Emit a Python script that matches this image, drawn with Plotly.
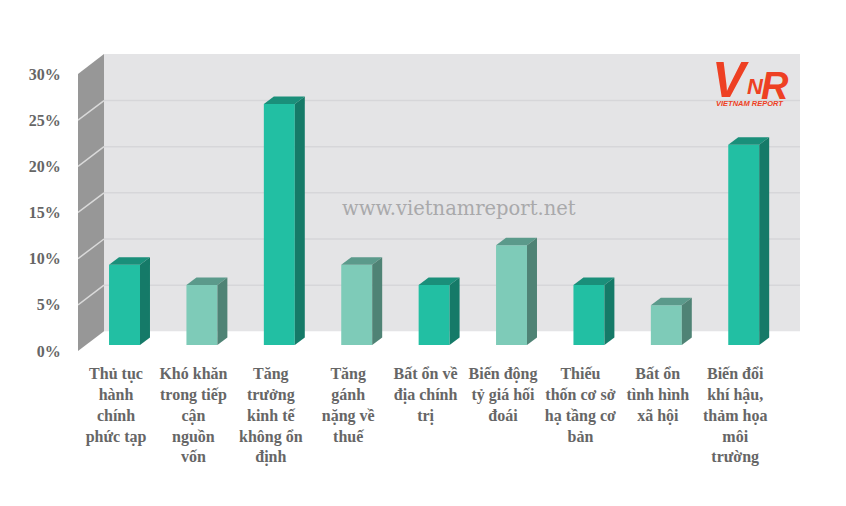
import plotly.graph_objects as go

categories = [
    "Thủ tục<br>hành<br>chính<br>phức tạp",
    "Khó khăn<br>trong tiếp<br>cận<br>nguồn<br>vốn",
    "Tăng<br>trưởng<br>kinh tế<br>không ổn<br>định",
    "Tăng<br>gánh<br>nặng về<br>thuế",
    "Bất ổn về<br>địa chính<br>trị",
    "Biến động<br>tỷ giá hối<br>đoái",
    "Thiếu<br>thốn cơ sở<br>hạ tầng cơ<br>bản",
    "Bất ổn<br>tình hình<br>xã hội",
    "Biến đổi<br>khí hậu,<br>thảm họa<br>môi<br>trường",
]
values = [8.7, 6.5, 26.1, 8.7, 6.5, 10.8, 6.5, 4.3, 21.7]
y_ticks = [0, 5, 10, 15, 20, 25, 30]
y_labels = ["0%", "5%", "10%", "15%", "20%", "25%", "30%"]

FONT = "Liberation Serif"
RED = "#EE4023"
WALL_BACK, WALL_SIDE = "#E4E4E6", "#979797"
GRID_BACK, GRID_SIDE = "#D6D6D9", "#DADADA"
DARK = ("#22BFA3", "#1A8F7A", "#157A68")
LIGHT = ("#7ECBB8", "#5B9A8B", "#4F8375")

X0, X1, Y1 = -0.491, 8.837, 32.17
WALL_DX, WALL_DY = 0.336, 2.13
BAR_DX, BAR_DY = 0.11, 0.65
BAR_W = 0.40
SIDE_DX, SIDE_DY = 0.129, 0.81

idx = list(range(len(values)))
palette = [DARK if i % 2 == 0 else LIGHT for i in idx]

fig = go.Figure()
fig.add_bar(x=[i + BAR_DX for i in idx], y=values, base=BAR_DY, width=BAR_W,
            marker=dict(color=[p[0] for p in palette], line_width=0), hoverinfo="skip")

for i, v, p in zip(idx, values, palette):
    l = i + BAR_DX - BAR_W / 2
    r = i + BAR_DX + BAR_W / 2
    t = v + BAR_DY
    fig.add_scatter(x=[l, r, r + SIDE_DX, l + SIDE_DX, l],
                    y=[t, t, t + SIDE_DY, t + SIDE_DY, t],
                    fill="toself", fillcolor=p[1], mode="none", hoverinfo="skip")
    fig.add_scatter(x=[r, r + SIDE_DX, r + SIDE_DX, r, r],
                    y=[BAR_DY, BAR_DY + SIDE_DY, t + SIDE_DY, t, BAR_DY],
                    fill="toself", fillcolor=p[2], mode="none", hoverinfo="skip")

shapes = [
    dict(type="rect", x0=X0 + WALL_DX, x1=X1, y0=WALL_DY, y1=Y1,
         fillcolor=WALL_BACK, line_width=0, layer="below"),
    dict(type="path", layer="below", fillcolor=WALL_SIDE, line_width=0,
         path=f"M {X0} 0 L {X0 + WALL_DX} {WALL_DY} L {X0 + WALL_DX} {Y1} L {X0} {y_ticks[-1]} Z"),
]
for t in y_ticks[1:-1]:
    shapes.append(dict(type="line", x0=X0 + WALL_DX, x1=X1, y0=t + WALL_DY, y1=t + WALL_DY,
                       line=dict(color=GRID_BACK, width=1.5), layer="below"))
    shapes.append(dict(type="line", x0=X0, x1=X0 + WALL_DX, y0=t, y1=t + WALL_DY,
                       line=dict(color=GRID_SIDE, width=1.5), layer="below"))


def logo(text, x, y, size):
    return dict(text=f"<b><i>{text}</i></b>", x=x, y=y, xref="paper", yref="paper", showarrow=False,
                xanchor="center", yanchor="middle",
                font=dict(family="Liberation Sans", size=size, color=RED))


annotations = [
    dict(text="www.vietnamreport.net", x=0.528, y=0.481, xref="paper", yref="paper",
         xanchor="center", yanchor="middle",
         showarrow=False, font=dict(family="DejaVu Serif", size=19.5, color="#A9A9AB")),
    logo("V", 0.904, 0.912, 50),
    logo("N", 0.938, 0.892, 22),
    logo("R", 0.966, 0.892, 38),
    logo("VIETNAM REPORT", 0.931, 0.835, 7.5),
]

fig.update_layout(
    width=846, height=506, autosize=False, showlegend=False,
    margin=dict(l=78, r=46, t=54, b=155),
    paper_bgcolor="white", plot_bgcolor="white",
    font=dict(family=FONT, size=16, color="#666666"),
    shapes=shapes, annotations=annotations,
    xaxis=dict(range=[X0, X1], tickmode="array", tickvals=idx, ticktext=categories,
               tickfont=dict(weight=700, color="#666666"),
               showgrid=False, zeroline=False, showline=False, ticks="outside", ticklen=8,
               tickcolor="rgba(0,0,0,0)", tickangle=0, automargin=False),
    yaxis=dict(range=[0, Y1], tickmode="array", tickvals=y_ticks, ticktext=y_labels,
               tickfont=dict(weight=700, color="#666666"),
               showgrid=False, zeroline=False, showline=False, ticks="outside", ticklen=13,
               tickcolor="rgba(0,0,0,0)", automargin=False),
)
fig.write_html("out.html", config=dict(displayModeBar=False),
               post_script="document.body.style.margin='0';document.body.style.overflow='hidden';")
